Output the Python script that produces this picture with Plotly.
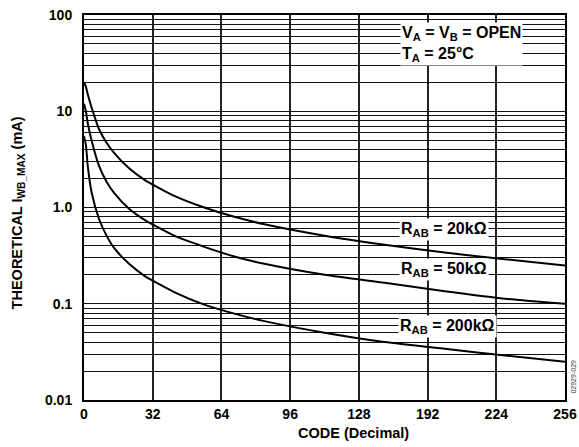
import plotly.graph_objects as go

# ---- data ----
codes = [0, 1, 2, 4, 8, 12, 16, 24, 32, 48, 64, 80, 96, 128, 160, 192, 224, 256]
i_20k = [20, 18, 15, 11, 6.5, 4.7, 3.7, 2.55, 1.95, 1.32, 1.0, 0.8, 0.67, 0.51, 0.41, 0.34, 0.29, 0.25]
i_50k = [12, 10, 7.5, 5.0, 2.7, 1.85, 1.42, 0.97, 0.75, 0.51, 0.39, 0.31, 0.26, 0.2, 0.165, 0.135, 0.113, 0.1]
i_200k = [5.5, 4.5, 2.7, 1.45, 0.76, 0.51, 0.38, 0.26, 0.196, 0.132, 0.098, 0.079, 0.066, 0.05, 0.04, 0.034, 0.029, 0.025]

x_tick_labels = ["0", "32", "64", "96", "128", "192", "224", "256"]
y_major = [0.01, 0.1, 1.0, 10, 100]
y_major_labels = ["0.01", "0.1", "1.0", "10", "100"]

series = [("R<sub>AB</sub> = 20kΩ", i_20k), ("R<sub>AB</sub> = 50kΩ", i_50k), ("R<sub>AB</sub> = 200kΩ", i_200k)]

FONT = "Liberation Sans"
TICK = dict(family=FONT, size=14, color="black", weight="bold")

fig = go.Figure()
for name, vals in series:
    fig.add_trace(go.Scatter(x=codes, y=vals, mode="lines", name=name,
                             line=dict(color="black", width=2, shape="spline", smoothing=0.6),
                             showlegend=False))

# tick positions: 8 equally spaced grid lines across 0..256
x_tickvals = [256 * k / 7 for k in range(8)]

# log grid: every 1..9 x decade
y_tickvals, y_ticktext = [], []
for d in [0.01, 0.1, 1, 10]:
    for m in range(1, 10):
        v = round(d * m, 6)
        y_tickvals.append(v)
        y_ticktext.append(y_major_labels[y_major.index(d)] if m == 1 else "")
y_tickvals.append(100)
y_ticktext.append("100")

fig.update_layout(
    width=579, height=447,
    margin=dict(l=84, r=14, t=15, b=47, autoexpand=False),
    paper_bgcolor="white", plot_bgcolor="white",
    font=dict(family=FONT, size=14, color="black"),
    xaxis=dict(range=[0, 256], tickvals=x_tickvals, ticktext=x_tick_labels, automargin=False,
               showgrid=True, gridcolor="#222", gridwidth=2,
               zeroline=False, showline=True, linecolor="black", linewidth=2, mirror=True,
               ticks="", ticklabelstandoff=0, tickfont=TICK),
    yaxis=dict(type="log", range=[-2, 2], tickvals=y_tickvals, ticktext=y_ticktext, automargin=False,
               showgrid=True, gridcolor="#111", gridwidth=1.3,
               zeroline=False, showline=True, linecolor="black", linewidth=2, mirror=True,
               ticks="", ticklabelstandoff=7, tickfont=TICK),
)

ANN = dict(size=16, family=FONT, color="black")
annots = [
    dict(x=0.56, y=-0.086, xref="paper", yref="paper", text="<b>CODE (Decimal)</b>",
         showarrow=False, font=dict(size=14.5), xanchor="center", yanchor="middle"),
    dict(x=-0.137, y=0.485, xref="paper", yref="paper",
         text="<b>THEORETICAL I<sub>WB_MAX</sub> (mA)</b>", textangle=-90,
         showarrow=False, font=dict(size=14.5), xanchor="center", yanchor="middle"),
    dict(x=0.657, y=0.982, xref="paper", yref="paper", align="left",
         text="<b>V<sub>A</sub> = V<sub>B</sub> = OPEN<br>T<sub>A</sub> = 25°C</b>",
         showarrow=False, bgcolor="white", font=ANN, xanchor="left", yanchor="top",
         borderpad=1),
    dict(x=0.748, y=0.442, xref="paper", yref="paper", text="<b>R<sub>AB</sub> = 20kΩ</b>",
         showarrow=False, bgcolor="white", font=ANN, xanchor="center", yanchor="middle", borderpad=1),
    dict(x=0.748, y=0.338, xref="paper", yref="paper", text="<b>R<sub>AB</sub> = 50kΩ</b>",
         showarrow=False, bgcolor="white", font=ANN, xanchor="center", yanchor="middle", borderpad=1),
    dict(x=0.755, y=0.192, xref="paper", yref="paper", text="<b>R<sub>AB</sub> = 200kΩ</b>",
         showarrow=False, bgcolor="white", font=ANN, xanchor="center", yanchor="middle", borderpad=1),
    dict(x=1.018, y=0.06, xref="paper", yref="paper", text="02929-029", textangle=-90,
         showarrow=False, font=dict(size=7, color="#333"), xanchor="center", yanchor="middle"),
]
fig.update_layout(annotations=annots)

fig.write_html("out.html")
